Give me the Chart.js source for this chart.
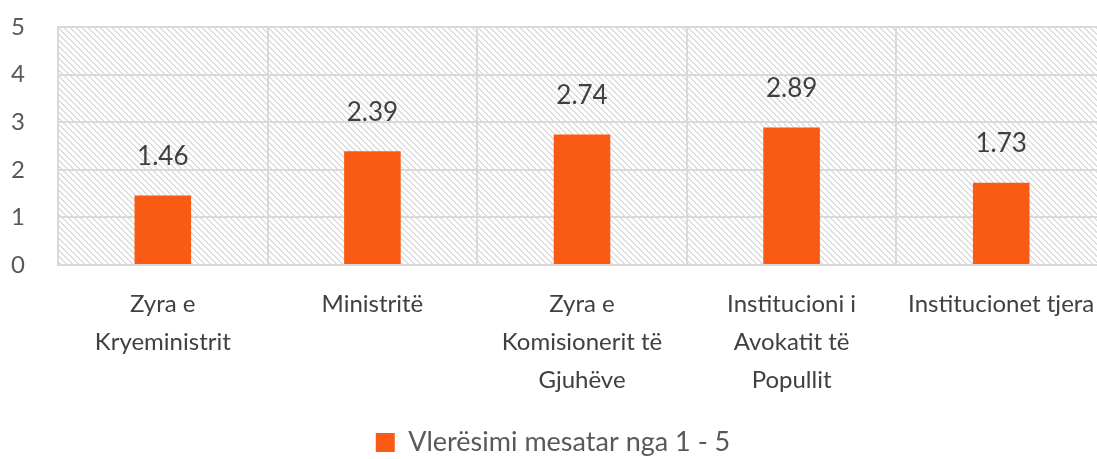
<!DOCTYPE html>
<html>
<head>
<meta charset="utf-8">
<script src="https://cdn.jsdelivr.net/npm/chart.js@4"></script>
<style>
  html, body { margin: 0; padding: 0; background: #fff; overflow: hidden; }
  #wrap { width: 1106px; height: 459px; position: relative; }
</style>
</head>
<body>
<div id="wrap"><canvas id="chart"></canvas></div>
<script>
const categories = [
    ['Zyra e', 'Kryeministrit'],
    ['Ministritë'],
    ['Zyra e', 'Komisionerit të', 'Gjuhëve'],
    ['Institucioni i', 'Avokatit të', 'Popullit'],
    ['Institucionet tjera']
];
const averageScores = [1.46, 2.39, 2.74, 2.89, 1.73];
const seriesName = 'Vlerësimi mesatar nga 1 - 5';
const yTicks = [0, 1, 2, 3, 4, 5];

const FONT = 'Lato, "Noto Sans", sans-serif';

// diagonal hatch used as plot background
function makeHatch() {
    const c = document.createElement('canvas');
    c.width = 6; c.height = 6;
    const g = c.getContext('2d');
    g.fillStyle = '#ffffff';
    g.fillRect(0, 0, 6, 6);
    g.fillStyle = '#dedede';
    for (let i = 0; i < 6; i++) {
        g.fillRect(i, i, 1, 1);
        g.fillRect((i + 1) % 6, i, 1, 1);
    }
    return g.createPattern(c, 'repeat');
}

const hatchBackground = {
    id: 'hatchBackground',
    beforeDraw(chart) {
        const { ctx, chartArea: a } = chart;
        ctx.save();
        ctx.fillStyle = makeHatch();
        ctx.fillRect(a.left, a.top, a.right - a.left, a.bottom - a.top);
        ctx.restore();
    }
};

// values above the bars
const barValues = {
    id: 'barValues',
    afterDatasetsDraw(chart) {
        const { ctx } = chart;
        const meta = chart.getDatasetMeta(0);
        ctx.save();
        ctx.font = '26px ' + FONT;
        ctx.fillStyle = '#404040';
        ctx.textAlign = 'center';
        ctx.textBaseline = 'middle';
        meta.data.forEach((bar, i) => {
            ctx.fillText(averageScores[i].toFixed(2), bar.x, bar.y - 39);
        });
        ctx.restore();
    }
};

new Chart(document.getElementById('chart'), {
    type: 'bar',
    data: {
        labels: categories,
        datasets: [{
            label: seriesName,
            data: averageScores,
            backgroundColor: '#F95A14',
            borderWidth: 0,
            barPercentage: 0.27,
            categoryPercentage: 1
        }]
    },
    options: {
        responsive: true,
        maintainAspectRatio: false,
        animation: false,
        layout: { padding: { top: 27, right: 0, left: 0, bottom: 0 } },
        plugins: {
            legend: {
                position: 'bottom',
                maxHeight: 30,
                labels: {
                    color: '#595959',
                    font: { family: FONT, size: 27 },
                    boxWidth: 19,
                    boxHeight: 19,
                    padding: 0
                }
            },
            tooltip: { enabled: false }
        },
        scales: {
            x: {
                grid: { color: '#d9d9d9', lineWidth: 2, drawTicks: false },
                border: { color: '#d9d9d9', width: 2 },
                ticks: {
                    color: '#404040',
                    font: { family: FONT, size: 24, lineHeight: 1.58 },
                    padding: 20,
                    maxRotation: 0,
                    autoSkip: false
                },
                afterFit(axis) {
                    axis.height = 164;
                    axis.paddingLeft = 0;
                    axis.paddingRight = 0;
                }
            },
            y: {
                min: 0,
                max: 5,
                grid: { color: '#d9d9d9', lineWidth: 2, drawTicks: false },
                border: { color: '#d9d9d9', width: 2 },
                afterBuildTicks(axis) { axis.ticks = yTicks.map(v => ({ value: v })); },
                ticks: {
                    color: '#595959',
                    font: { family: FONT, size: 24 },
                    padding: 33
                },
                afterFit(axis) {
                    axis.width = 58;
                    axis.paddingTop = 0;
                    axis.paddingBottom = 0;
                }
            }
        }
    },
    plugins: [hatchBackground, barValues]
});
</script>
</body>
</html>
